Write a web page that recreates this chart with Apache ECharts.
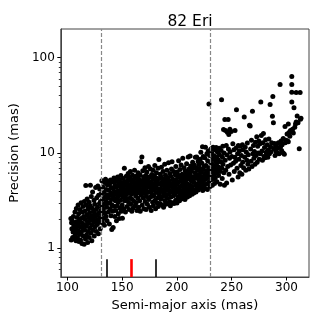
<!DOCTYPE html>
<html>
<head>
<meta charset="utf-8">
<script src="https://cdn.jsdelivr.net/npm/echarts@6/dist/echarts.min.js"></script>
<style>html,body{margin:0;padding:0;background:#fff;}#c{width:319px;height:319px;}</style>
</head>
<body>
<div id="c"></div>
<script>
// Semi-major axis (mas), Precision (mas) pairs
const leftCluster = [
[103.2,2.05],[103.5,1.22],[103.8,1.85],[104.1,1.60],[104.4,1.95],[104.8,1.30],[105.2,1.48],[105.5,2.15],[105.9,1.72],[106.2,1.25],[106.6,1.55],[106.9,2.40],[107.3,1.38],[107.6,1.88],[107.9,1.20],[108.2,2.62],[108.4,1.65],[108.7,1.45],
[108.9,2.10],[109.2,1.28],[109.5,1.80],[109.8,2.85],[110.1,1.52],[110.3,2.30],[110.6,1.18],[110.9,1.95],[111.2,1.40],[111.4,2.55],[111.7,1.68],[112.0,1.22],[112.3,2.05],[112.5,3.00],[112.8,1.48],[113.1,1.85],[113.3,1.12],[113.6,2.40],[113.9,1.62],[114.2,2.75],[114.5,1.35],[114.8,2.15],
[115.0,1.78],[115.3,1.10],[115.5,3.10],[115.8,2.45],[116.0,1.55],[116.3,2.00],[116.5,1.25],[116.8,4.55],[117.0,2.85],[117.3,1.70],[117.5,1.38],[117.8,2.25],[118.0,3.30],[118.3,1.90],[118.5,1.15],[118.8,2.60],[119.0,1.50],[119.3,2.10],[119.5,1.82],[119.8,3.05],[120.0,1.30],[120.3,2.38],[120.5,1.62],[120.8,2.80],
[121.0,4.60],[121.2,1.98],[121.5,1.45],[121.8,3.50],[122.0,2.20],[122.3,1.20],[122.5,2.65],[122.8,1.75],[123.0,3.90],[123.3,2.05],[123.5,1.55],[123.8,2.45],[124.0,1.88],[124.3,3.20],[124.5,1.35],[124.8,2.30],[125.0,2.90],[125.3,1.68],[125.5,2.15],[125.8,4.35],[126.0,1.95],[126.2,2.55],[126.5,1.50],[126.8,3.40],
[127.0,2.25],[127.3,1.78],[127.5,2.70],[127.8,4.50],[128.0,2.00],[128.3,1.42],[128.5,3.60],[128.8,2.35],[129.0,1.88],[129.3,2.95],[129.5,4.20],[129.8,2.10],[130.0,1.60],[130.2,3.10],[130.5,2.50],[130.8,1.95],[131.0,3.75],[131.2,2.28],[131.5,5.10],[131.8,2.75]
];
const midCluster = [
[132.0,1.85],[132.3,3.30],[132.5,4.40],[132.8,2.55],[133.0,2.05],[133.3,3.85],[133.5,2.90],[133.8,1.75],[134.0,4.90],[134.3,3.45],[134.5,2.35],[134.8,5.30],[135.0,3.10],[135.3,2.15],[135.5,4.15],[135.8,2.70],[136.0,3.65],[136.2,1.95],[136.5,4.65],[136.8,2.95],[137.0,3.35],[137.3,5.00],
[137.5,2.40],[137.8,4.10],[138.0,3.55],[138.3,1.80],[138.5,4.75],[138.8,3.00],[139.0,2.60],[139.3,5.20],[139.5,3.80],[139.8,2.20],[140.0,4.35],[140.3,3.25],[140.5,1.58],[140.8,2.85],[141.0,4.95],[141.3,3.60],[141.5,2.45],[141.8,1.65],[142.0,4.20],[142.3,3.40],[142.5,5.45],[142.8,2.75],[143.0,3.90],[143.3,2.15],
[143.5,4.60],[143.8,3.15],[144.0,5.05],[144.3,2.50],[144.5,3.70],[144.8,1.95],[145.0,4.40],[145.3,3.35],[145.5,2.80],[145.8,5.60],[146.0,4.00],[146.3,3.05],[146.5,2.30],[146.8,4.75],[147.0,3.55],[147.3,2.05],[147.5,5.25],[147.8,3.85],[148.0,2.65],[148.3,4.50],[148.5,3.20],[148.8,5.80],[149.0,4.15],[149.3,2.45],[149.5,3.65],[149.8,4.90],
[150.0,2.85],[150.2,2.07],[150.5,4.30],[150.8,3.45],[151.0,5.40],[151.3,3.90],[151.5,2.60],[151.8,4.70],[152.0,6.90],[152.3,3.15],[152.5,4.05],[152.8,5.00],[153.0,2.40],[153.3,3.60],[153.5,4.55],[153.8,5.70],[154.0,3.30],[154.3,4.20],[154.5,2.75],[154.8,4.85],[155.0,3.75],[155.3,5.20],[155.5,6.10],[155.8,3.05],[156.0,4.40],[156.3,2.55],[156.5,5.55],[156.8,3.95],
[157.0,4.65],[157.3,3.40],[157.5,6.40],[157.8,2.90],[158.0,4.10],[158.3,5.30],[158.5,3.70],[158.8,2.45],[159.0,4.90],[159.3,3.25],[159.5,5.85],[159.8,4.35],[160.0,2.65],[160.3,3.85],[160.5,5.05],[160.8,4.50],[161.0,3.10],[161.3,6.60],[161.5,4.00],[161.8,2.80],[162.0,5.45],[162.3,3.55],[162.5,4.75],[162.8,3.00],[163.0,4.25],[163.3,5.75],[163.5,2.50],[163.8,3.80],
[164.0,4.95],[164.3,3.35],[164.5,6.20],[164.8,4.40],[165.0,2.70],[165.3,5.35],[165.5,3.95],[165.8,4.70],[166.0,3.15],[166.3,5.90],[166.5,2.45],[166.8,4.15],[167.0,8.10],[167.3,3.60],[167.5,5.10],[167.8,4.55],[168.0,9.10],[168.3,2.85],[168.5,3.90],[168.8,6.50],[169.0,4.85],[169.3,3.40],[169.5,5.60],[169.8,2.60],[170.0,4.30],[170.3,3.75],[170.5,5.25],[170.8,7.00],
[171.0,3.10],[171.3,4.60],[171.5,5.80],[171.8,2.55],[172.0,4.05],[172.3,3.50],[172.5,6.30],[172.8,4.95],[173.0,2.90],[173.3,3.85],[173.5,5.40],[173.8,4.40],[174.0,7.20],[174.3,3.25],[174.5,4.75],[174.8,2.70],[175.0,5.65],[175.3,3.95],[175.5,4.50],[175.8,6.80],[176.0,3.45],[176.3,5.00],[176.5,2.50],[176.8,4.20],[177.0,5.95],[177.3,3.70],[177.5,4.65],[177.8,3.05],
[178.0,5.30],[178.3,6.60],[178.5,2.80],[178.8,4.10],[179.0,3.55],[179.3,5.75],[179.5,4.45],[179.8,7.40],[180.0,3.20],[180.3,4.90],[180.5,2.60],[180.8,5.50],[181.0,3.85],[181.3,6.20],[181.5,4.30],[181.8,3.00],[182.0,5.15],[182.3,4.70],[182.5,3.40],[182.8,6.90],[183.0,2.75],[183.3,4.00],[183.5,8.55],[183.8,5.40],[184.0,3.65],[184.3,4.80],[184.5,2.95],[184.8,6.00],
[185.0,4.25],[185.3,3.30],[185.5,5.60],[185.8,7.10],[186.0,3.95],[186.3,4.60],[186.5,2.85],[186.8,5.05],[187.0,3.50],[187.3,6.40],[187.5,4.15],[187.8,2.70],[188.0,5.35],[188.3,3.80],[188.5,4.85],[188.8,7.60],[189.0,3.15],[189.3,4.40],[189.5,5.85],[189.8,3.60],[190.0,2.90],[190.3,5.20],[190.5,4.05],[190.8,6.60],[191.0,3.35],[191.3,4.70],
[191.5,5.50],[191.8,2.95],[192.0,4.30],[192.3,7.90],[192.5,3.70],[192.8,5.10],[193.0,4.55],[193.3,3.10],[193.5,6.10],[193.8,4.00],[194.0,2.80],[194.3,5.70],[194.5,3.45],[194.8,4.80],[195.0,6.80],[195.3,3.90],[195.5,8.10],[195.8,4.35],[196.0,3.00],[196.3,5.30],[196.5,4.65],[196.8,3.55],[197.0,6.40],[197.3,2.95],[197.5,5.00],[197.8,4.10],
[198.0,3.70],[198.3,5.90],[198.5,4.45],[198.8,3.20],[199.0,7.20],[199.3,5.25],[199.5,3.85],[199.8,4.70],[200.0,2.98],[200.3,6.30],[200.5,4.20],[200.8,5.55],[201.0,3.45],[201.3,4.90],[201.5,8.30],[201.8,3.90],[202.0,5.80],[202.3,3.15],[202.5,4.40],[202.8,6.70],[203.0,3.60],[203.3,5.15],[203.5,4.05],[203.8,7.50]
];
const upperCluster = [
[204.0,3.30],[204.3,5.45],[204.5,4.60],[204.8,6.00],[205.0,3.75],[205.3,8.80],[205.5,4.95],[205.8,3.50],[206.0,5.70],[206.3,4.25],[206.5,7.00],[206.8,3.95],[207.0,5.20],[207.3,3.25],[207.5,6.50],[207.8,4.50],[208.0,5.95],[208.3,3.70],[208.5,4.85],[208.8,7.70],[209.0,4.10],[209.3,5.50],[209.5,3.45],[209.8,6.20],
[210.0,4.70],[210.3,9.10],[210.5,3.85],[210.8,5.35],[211.0,6.80],[211.3,4.30],[211.5,3.55],[211.8,5.90],[212.0,9.30],[212.3,4.60],[212.5,7.30],[212.8,3.95],[213.0,5.10],[213.3,6.40],[213.5,4.45],[213.8,3.70],[214.0,5.65],[214.3,8.00],[214.5,4.15],[214.8,6.90],[215.0,5.25],[215.3,3.80],
[215.5,4.90],[215.8,7.50],[216.0,5.60],[216.3,4.00],[216.5,6.20],[216.8,9.00],[217.0,4.55],[217.3,3.90],[217.5,5.85],[217.8,7.00],[218.0,9.10],[218.3,4.35],[218.5,5.40],[218.8,6.60],[219.0,4.80],[219.3,8.20],[219.5,4.10],[219.8,5.95],[220.0,7.60],[220.3,4.65],[220.5,5.20],[220.8,6.90],
[221.0,4.30],[221.3,8.60],[221.5,5.70],[221.8,10.20],[222.0,4.90],[222.3,6.30],[222.5,4.40],[222.8,7.80],[223.0,5.45],[223.3,11.60],[223.5,4.05],[223.8,6.70],[224.0,9.20],[224.3,5.10],[224.5,4.60],[224.8,7.20],[225.0,5.80],[225.3,8.90],[225.5,4.25],[225.8,6.10],[226.0,11.50],[226.3,5.35],
[226.5,7.40],[226.8,4.70],[227.0,6.50],[227.3,9.80],[227.5,5.50],[227.8,4.15],[228.0,8.30],[228.3,6.00],[228.5,10.50],[228.8,4.90],[229.0,7.00],[229.2,32.60],[229.5,5.65],[229.8,9.40],[230.0,6.30],[230.3,4.45],[230.5,8.00],[230.8,5.20],[231.0,11.00],[231.3,6.80]
];
const rightSpread = [
[231.5,5.60],[231.8,7.70],[232.0,9.90],[232.3,4.60],[232.5,6.40],[232.8,8.60],[233.0,11.50],[233.3,5.30],[233.5,7.20],[233.8,6.00],[234.0,9.30],[234.3,4.80],[234.5,10.80],[234.8,6.80],[235.0,5.50],[235.3,8.20],[235.5,7.50],[235.8,11.40],
[236.0,6.20],[236.3,9.00],[236.5,5.00],[236.8,7.90],[237.0,10.20],[237.3,6.70],[237.5,8.50],[238.0,5.80],[238.3,7.10],[238.5,11.20],[238.8,9.60],[239.3,6.40],[239.5,4.70],[240.0,8.10],[240.3,10.60],[240.7,36.20],
[241.0,6.90],[241.3,5.40],[241.5,9.00],[241.8,11.80],[242.0,7.60],[242.5,17.60],[242.8,6.20],[243.0,10.00],[243.3,4.60],[243.7,22.40],[244.0,8.40],[244.3,17.20],[244.5,6.60],[245.0,12.00],[245.3,4.85],[245.8,9.50],
[246.0,16.50],[246.3,7.20],[246.7,22.40],[247.0,11.00],[247.3,15.60],[247.5,6.00],[248.0,8.80],[248.3,17.80],[248.5,10.30],[249.0,7.50],[249.5,16.80],[250.0,9.20],[250.5,5.20],[251.0,12.50],
[251.5,7.80],[252.0,10.80],[252.3,6.40],[252.8,9.00],[253.0,17.20],[253.5,8.20],[254.0,11.30],[254.3,28.50],[254.8,6.90],[255.3,9.80],[255.8,5.60],[256.0,12.00],
[256.5,8.60],[257.0,10.50],[257.3,6.20],[257.8,11.80],[258.3,7.40],[258.8,9.40],[259.2,6.00],[259.7,12.20],[260.0,8.00],[260.3,10.80],[260.8,7.00],[261.4,23.80],
[261.8,9.00],[262.3,11.50],[262.8,6.60],[263.3,10.20],[263.8,8.40],[264.2,12.70],[264.7,7.60],[265.2,9.60],[265.6,6.80],[266.2,19.50],[266.8,19.20],
[267.2,11.00],[267.6,8.20],[268.0,13.60],[268.5,7.20],[268.9,27.50],[269.3,9.80],[269.8,12.00],[270.2,8.80],[270.7,10.40],[271.2,7.60],[271.7,13.00],
[272.3,9.40],[272.8,14.80],[273.2,8.00],[273.7,11.80],[274.2,10.00],[274.7,13.40],[275.2,8.60],[275.7,12.50],[276.2,9.80],[276.5,34.20],[277.0,15.30],
[277.5,10.50],[278.0,8.40],[278.5,12.80],[278.9,16.00],[279.4,9.20],[279.9,11.40],[280.4,8.90],[280.9,13.80],[281.4,10.20],[281.9,9.60],
[282.4,12.20],[282.9,9.00],[283.4,10.80],[283.9,14.00],[284.4,9.80],[285.0,32.30],[285.4,11.60],[285.9,10.30],[286.4,12.80],[287.1,24.30],[287.5,39.20],
[288.0,20.80],[288.5,11.00],[289.0,12.60],[289.5,9.40],[290.0,11.80],[290.5,10.40],[291.0,12.40],[291.5,10.00],[292.0,11.20],[292.6,12.80],[293.2,9.80],
[294.1,52.40],[294.5,11.60],[295.0,13.40],[295.5,10.60],[296.0,12.20],[297.0,14.20],[297.0,10.00],[298.0,9.70],[298.8,12.80],[299.5,13.60],[298.6,19.00],[301.6,20.20],
[300.5,15.80],[301.0,13.40],[301.6,13.10],[302.3,16.40],[303.0,15.00],[303.6,17.20],[304.8,63.40],[304.8,52.40],[304.8,43.50],[304.8,34.20],
[305.5,17.80],[306.2,16.20],[306.8,29.90],[307.5,18.60],[308.2,20.20],[308.8,43.00],[308.8,21.10],[309.7,24.40],[310.5,20.80],[311.6,11.10],[312.4,43.00],[312.7,22.60],[313.2,23.10]
];
const points = leftCluster.concat(midCluster, upperCluster, rightSpread);

const windowEdges = [131, 230];           // dashed vertical lines
const blackMarkers = [135.6, 180.2];      // short black ticks at bottom
const redMarker = [158.4];                // short red tick at bottom
const markerSpan = [0.5, 0.77];           // vertical extent of the bottom ticks
const xTicks = [100, 150, 200, 250, 300];
const yTicks = [1, 10, 100];
const yMinorTicks = [0.6,0.7,0.8,0.9,2,3,4,5,6,7,8,9,20,30,40,50,60,70,80,90];

const FONT = 'DejaVu Sans';
const chart = echarts.init(document.getElementById('c'), null, {renderer: 'canvas'});

const markerLines = [];
blackMarkers.forEach(v => markerLines.push([{coord: [v, markerSpan[0]], lineStyle: {color: '#000', width: 1.6, type: 'solid'}}, {coord: [v, markerSpan[1]]}]));
redMarker.forEach(v => markerLines.push([{coord: [v, markerSpan[0]], lineStyle: {color: '#ff0000', width: 2.6, type: 'solid'}}, {coord: [v, markerSpan[1]]}]));

chart.setOption({
  animation: false,
  backgroundColor: '#fff',
  title: {
    text: '82 Eri', left: 185, top: 9, textAlign: 'center',
    textStyle: {fontFamily: FONT, fontSize: 15.5, fontWeight: 'normal', color: '#000'}
  },
  grid: {left: 60, right: 10, top: 29, bottom: 42, show: true, borderColor: '#444', borderWidth: 1, backgroundColor: 'transparent'},
  xAxis: {
    type: 'value', min: 94, max: 320.5,
    name: 'Semi-major axis (mas)', nameLocation: 'middle', nameGap: 19,
    nameTextStyle: {fontFamily: FONT, fontSize: 13, color: '#000'},
    axisLine: {show: true, lineStyle: {color: '#444', width: 1}},
    axisTick: {show: true, length: 3.5, customValues: xTicks, lineStyle: {color: '#000', width: 1}},
    axisLabel: {customValues: xTicks, fontFamily: FONT, fontSize: 12, color: '#000', margin: 5},
    splitLine: {show: false}
  },
  yAxis: [{
    type: 'log', logBase: 10, min: 0.5, max: 200,
    name: 'Precision (mas)', nameLocation: 'middle', nameGap: 36, nameRotate: 90,
    nameTextStyle: {fontFamily: FONT, fontSize: 13, color: '#000'},
    axisLine: {show: true, lineStyle: {color: '#444', width: 1}},
    axisTick: {show: true, length: 3.5, customValues: yTicks, lineStyle: {color: '#000', width: 1}},
    axisLabel: {customValues: yTicks, fontFamily: FONT, fontSize: 12, color: '#000', margin: 6},
    splitLine: {show: false}, minorTick: {show: false}
  }, {
    type: 'log', logBase: 10, min: 0.5, max: 200, position: 'left', offset: 0,
    axisLine: {show: false},
    axisTick: {show: true, length: 2, customValues: yMinorTicks, lineStyle: {color: '#000', width: 0.8}},
    axisLabel: {show: false},
    splitLine: {show: false}
  }],
  series: [{
    type: 'scatter', xAxisIndex: 0, yAxisIndex: 0,
    data: points, symbol: 'circle', symbolSize: 5,
    itemStyle: {color: '#000', opacity: 1},
    silent: true,
    markLine: {
      silent: true, symbol: ['none', 'none'], label: {show: false},
      lineStyle: {color: '#888', width: 1.2, type: [4, 2]},
      data: windowEdges.map(v => ({xAxis: v})).concat(markerLines)
    }
  }]
});
</script>
</body>
</html>
